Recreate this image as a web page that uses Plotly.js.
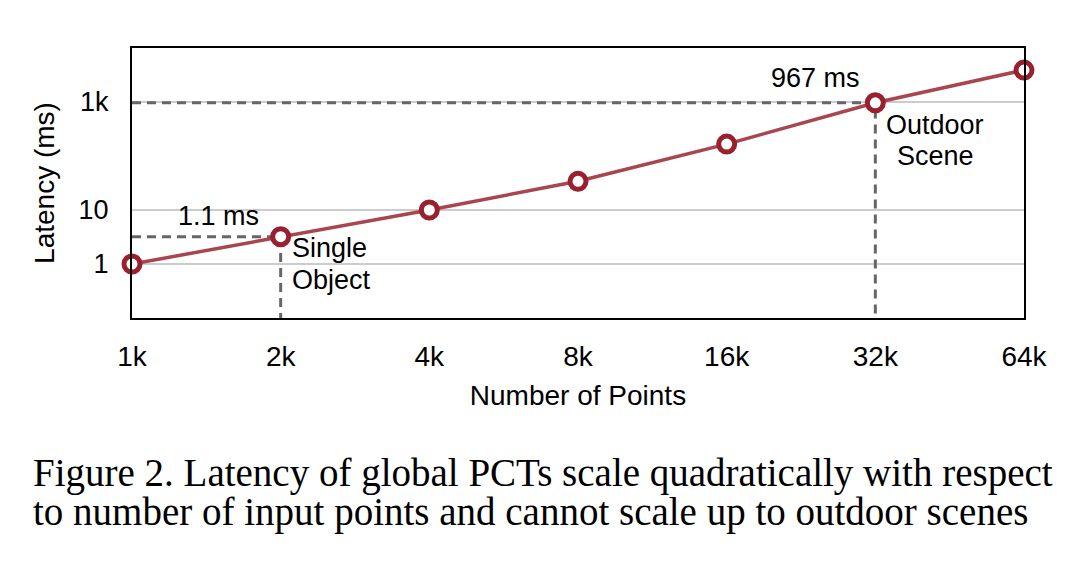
<!DOCTYPE html>
<html>
<head>
<meta charset="utf-8">
<script src="https://cdn.plot.ly/plotly-3.0.1.min.js"></script>
<style>
  html, body { margin: 0; padding: 0; background: #fff; }
  #plot { width: 1080px; height: 570px; }
</style>
</head>
<body>
<div id="plot"></div>
<script>
// data
let pointLabels = ['1k', '2k', '4k', '8k', '16k', '32k', '64k']
let latency = [1, 3.2, 10, 34, 166, 967, 3900]
let yTickVals = [1, 10, 1000]
let yTickText = ['1', '10', '1k']
let captionLines = [
    'Figure 2. Latency of global PCTs scale quadratically with respect',
    'to number of input points and cannot scale up to outdoor scenes'
]

let xIdx = pointLabels.map((d, i) => i)
let lineColor = '#a8454f'
let dashColor = '#666666'
let font = 'Liberation Sans, Arial, sans-serif'

// dashed guides to the Single Object (2k) and Outdoor Scene (32k) points
let single = 1
let outdoor = 5
let guide1 = {
    x: [0, xIdx[single], xIdx[single]],
    y: [latency[single], latency[single], 0.1],
    mode: 'lines',
    line: { color: dashColor, width: 3, dash: '9px,6px' },
    hoverinfo: 'skip'
}
let guide2 = {
    x: [0, xIdx[outdoor], xIdx[outdoor]],
    y: [latency[outdoor], latency[outdoor], 0.1],
    mode: 'lines',
    line: { color: dashColor, width: 3, dash: '9px,6px' },
    hoverinfo: 'skip'
}

// main latency curve
let trace = {
    x: xIdx,
    y: latency,
    mode: 'lines+markers',
    line: { color: lineColor, width: 3.5 },
    marker: { size: 16, color: '#ffffff', line: { color: '#98202f', width: 5 } },
    cliponaxis: false
}

let annFont = { family: font, size: 27, color: '#000' }
let ls = Math.log10(latency[single])
let lo = Math.log10(latency[outdoor])
let annotations = [
    { x: xIdx[single], y: ls, text: '1.1 ms', xanchor: 'right', xshift: -20, yshift: 21 },
    { x: xIdx[single], y: ls, text: 'Single', xanchor: 'left', xshift: 9, yshift: -11 },
    { x: xIdx[single], y: ls, text: 'Object', xanchor: 'left', xshift: 9, yshift: -43 },
    { x: xIdx[outdoor], y: lo, text: '967 ms', xanchor: 'right', xshift: -13, yshift: 25 },
    { x: xIdx[outdoor], y: lo, text: 'Outdoor', xanchor: 'center', xshift: 60, yshift: -22 },
    { x: xIdx[outdoor], y: lo, text: 'Scene', xanchor: 'center', xshift: 60, yshift: -53 }
].map(a => Object.assign({ xref: 'x', yref: 'y', yanchor: 'middle', showarrow: false, font: annFont }, a))

// figure caption below the chart
let capFont = { family: 'Liberation Serif, Times New Roman, serif', size: 39, color: '#000' }
let capY = [-0.575, -0.72]
captionLines.forEach((t, i) => {
    annotations.push({
        xref: 'paper', yref: 'paper', x: -0.113, y: capY[i],
        xanchor: 'left', yanchor: 'middle', align: 'left', showarrow: false,
        text: t, font: capFont
    })
})

let layout = {
    width: 1080,
    height: 570,
    margin: { l: 132, r: 56, t: 48, b: 252 },
    paper_bgcolor: '#fff',
    plot_bgcolor: '#fff',
    showlegend: false,
    font: { family: font, size: 28, color: '#000' },
    xaxis: {
        type: 'linear',
        range: [0, 6],
        tickvals: xIdx,
        ticktext: pointLabels,
        ticks: 'outside', ticklen: 12, tickcolor: 'rgba(0,0,0,0)',
        showgrid: false, zeroline: false,
        showline: true, mirror: true, linecolor: '#000', linewidth: 2,
        tickfont: { size: 28 },
        title: { text: 'Number of Points', font: { size: 28 }, standoff: 15 },
        automargin: false
    },
    yaxis: {
        type: 'log',
        range: [-1, 4],
        tickvals: yTickVals,
        ticktext: yTickText,
        ticks: 'outside', ticklen: 16, tickcolor: 'rgba(0,0,0,0)',
        showgrid: true, gridcolor: '#cccccc', gridwidth: 1.5, zeroline: false,
        showline: true, mirror: true, linecolor: '#000', linewidth: 2,
        tickfont: { size: 27 },
        title: { text: 'Latency (ms)', font: { size: 28 }, standoff: 16 },
        automargin: false
    },
    annotations: annotations
}

Plotly.newPlot('plot', [guide1, guide2, trace], layout, { displayModeBar: false, staticPlot: true })
</script>
</body>
</html>
